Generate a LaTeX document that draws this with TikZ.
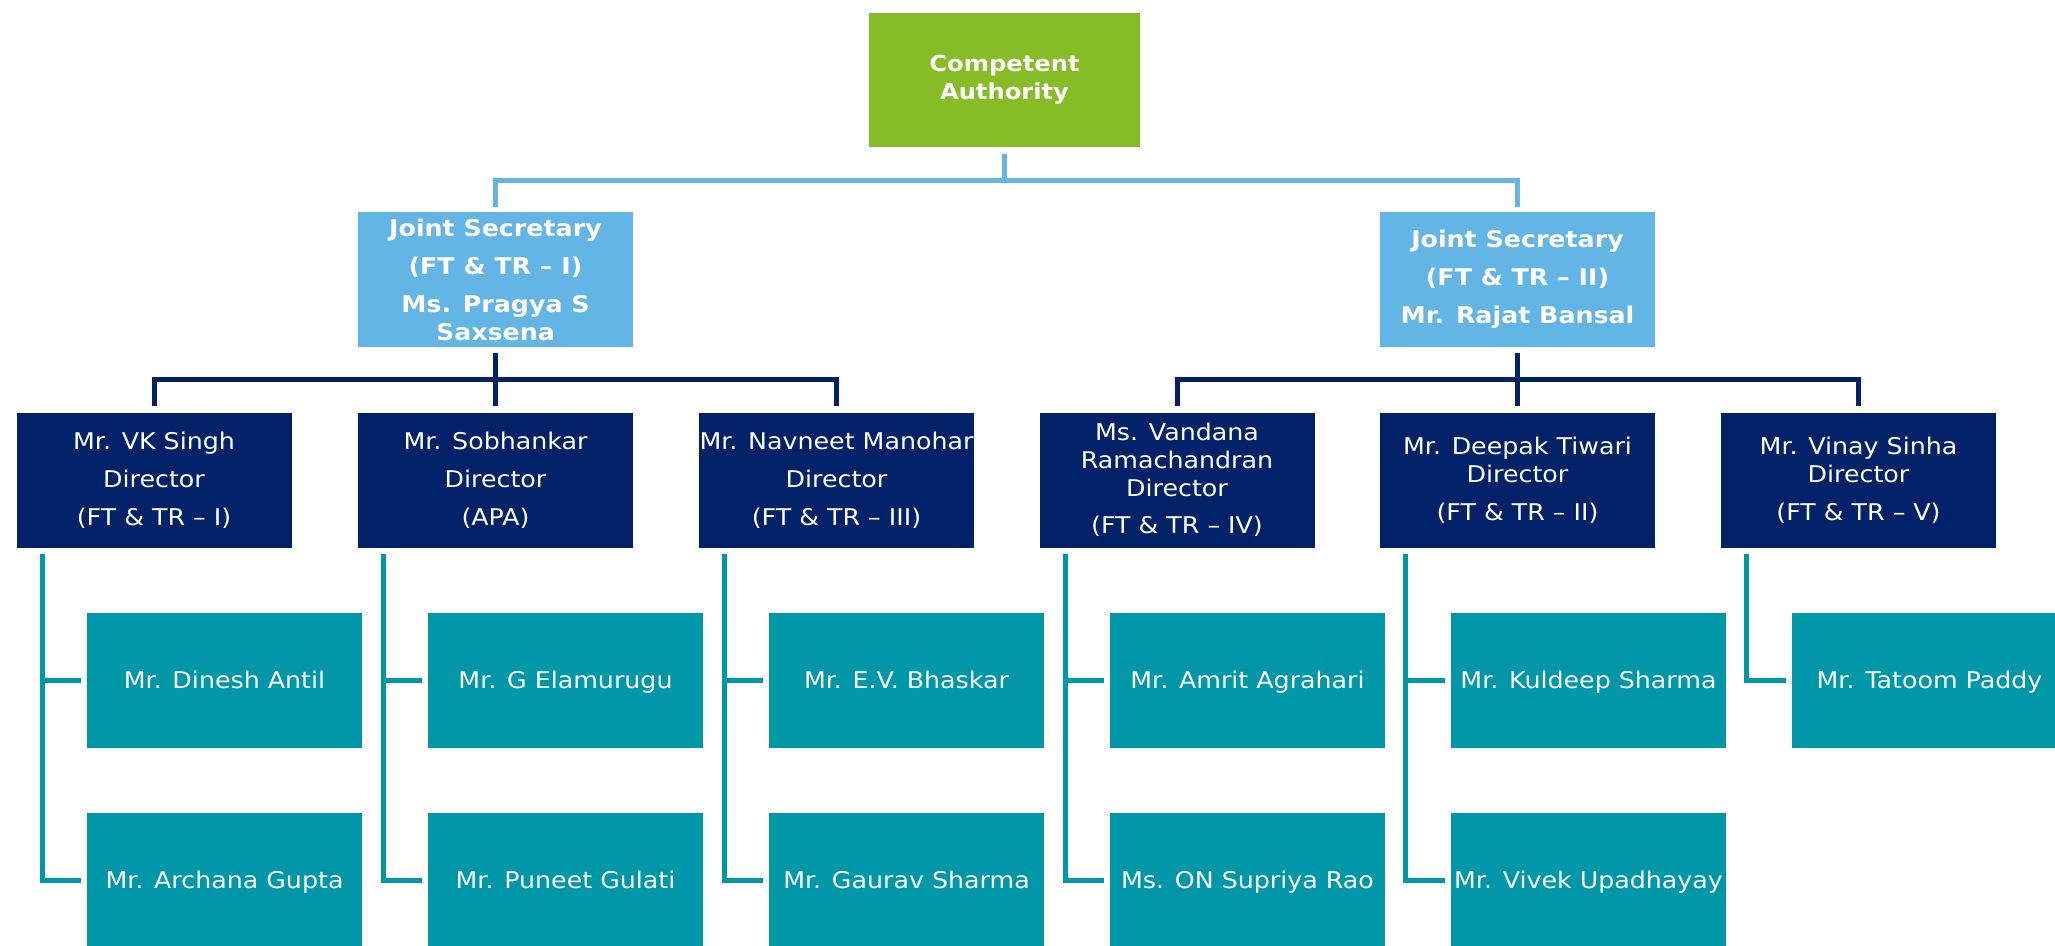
\documentclass[tikz,border=0pt]{standalone}
\usepackage{fontspec}
\setmainfont{DejaVu Sans}[FakeStretch=1.1]
\definecolor{cagreen}{HTML}{86BC25}
\definecolor{jsblue}{HTML}{62B5E5}
\definecolor{dirblue}{HTML}{012169}
\definecolor{memteal}{HTML}{0097A9}
\tikzset{
  orgbox/.style={rectangle, inner sep=0pt, minimum width=275pt, minimum height=135pt,
    text=white, align=center, font=\fontsize{23}{28}\selectfont},
  cabox/.style={orgbox, fill=cagreen, minimum width=271pt, minimum height=134pt,
    font=\fontsize{22}{28}\selectfont\bfseries},
  jsbox/.style={orgbox, fill=jsblue, font=\fontsize{23}{28}\selectfont\bfseries},
  dirbox/.style={orgbox, fill=dirblue},
  membox/.style={orgbox, fill=memteal, text height=22pt, text depth=5.2pt},
  lbline/.style={draw=jsblue, line width=5pt},
  dbline/.style={draw=dirblue, line width=5pt},
  tline/.style={draw=memteal, line width=5pt}
}
\begin{document}
\begin{tikzpicture}[x=1pt,y=1pt]
\clip (0,0) rectangle (2055,-945);
\fill[white] (0,0) rectangle (2055,-945);
% top
\node[cabox] (ca) at (1004.5,-80) {Competent\\Authority};
\node[jsbox] (js1) at (495.5,-279.5) {Joint Secretary\\[10pt](FT \& TR – I)\\[10pt]Ms. Pragya S\\Saxsena};
\node[jsbox] (js2) at (1517.5,-279.5) {Joint Secretary\\[10pt](FT \& TR – II)\\[10pt]Mr. Rajat Bansal};
% directors
\node[dirbox] (d1) at (154,-480) {Mr. VK Singh\\[10pt]Director\\[10pt](FT \& TR – I)};
\node[dirbox] (d2) at (495.5,-480) {Mr. Sobhankar\\[10pt]Director\\[10pt](APA)};
\node[dirbox] (d3) at (836.5,-480) {Mr. Navneet Manohar\\[10pt]Director\\[10pt](FT \& TR – III)};
\node[dirbox] (d4) at (1177,-480) {Ms. Vandana\\Ramachandran\\Director\\[9pt](FT \& TR – IV)};
\node[dirbox] (d5) at (1517.5,-480) {Mr. Deepak Tiwari\\Director\\[10pt](FT \& TR – II)};
\node[dirbox] (d6) at (1858.5,-480) {Mr. Vinay Sinha\\Director\\[10pt](FT \& TR – V)};
% members
\node[membox] (m1a) at (224.5,-680) {Mr. Dinesh Antil};
\node[membox] (m1b) at (224.5,-880.5) {Mr. Archana Gupta};
\node[membox] (m2a) at (565.5,-680) {Mr. G Elamurugu};
\node[membox] (m2b) at (565.5,-880.5) {Mr. Puneet Gulati};
\node[membox] (m3a) at (906.5,-680) {Mr. E.V. Bhaskar};
\node[membox] (m3b) at (906.5,-880.5) {Mr. Gaurav Sharma};
\node[membox] (m4a) at (1247.5,-680) {Mr. Amrit Agrahari};
\node[membox] (m4b) at (1247.5,-880.5) {Ms. ON Supriya Rao};
\node[membox] (m5a) at (1588.5,-680) {Mr. Kuldeep Sharma};
\node[membox] (m5b) at (1588.5,-880.5) {Mr. Vivek Upadhayay};
\node[membox] (m6a) at (1929.5,-680) {Mr. Tatoom Paddy};
% CA -> JS
\draw[lbline] ([yshift=-7pt]ca.south) -- ++(0,-26) coordinate (cab);
\draw[lbline] ([yshift=5pt]js1.north) |- (cab) -| ([yshift=5pt]js2.north);
% JS -> directors
\draw[dbline] ([yshift=-6pt]js1.south) -- ([yshift=6pt]d2.north);
\draw[dbline] ([yshift=6pt]d1.north) -- ++(0,27) -| ([yshift=6pt]d3.north);
\draw[dbline] ([yshift=-6pt]js2.south) -- ([yshift=6pt]d5.north);
\draw[dbline] ([yshift=6pt]d4.north) -- ++(0,27) -| ([yshift=6pt]d6.north);
% directors -> members
\foreach \i in {1,...,5}{
  \coordinate (v\i) at ([xshift=26pt,yshift=-6pt]d\i.south west);
  \draw[tline] (v\i) |- ([xshift=-6pt]m\i b.west);
  \draw[tline] (v\i |- m\i a.west) -- ([xshift=-6pt]m\i a.west);
}
\coordinate (v6) at ([xshift=26pt,yshift=-6pt]d6.south west);
\draw[tline] (v6) |- ([xshift=-6pt]m6a.west);
\end{tikzpicture}
\end{document}
